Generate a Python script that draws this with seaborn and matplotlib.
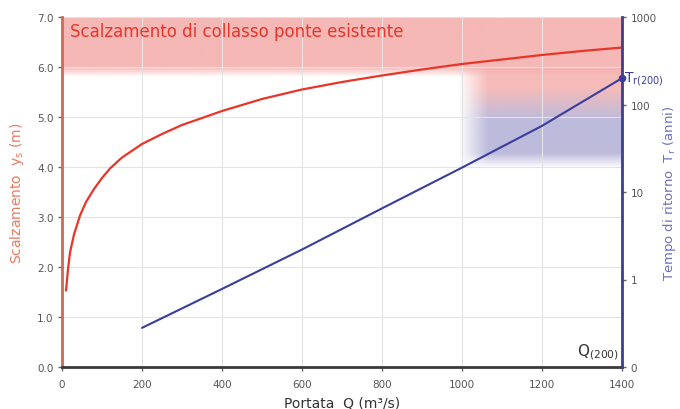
import numpy as np
import pandas as pd
import matplotlib
matplotlib.use("Agg")
import matplotlib.pyplot as plt
import seaborn as sns

# ---- data ----
q_scour = [10, 15, 20, 30, 45, 60, 80, 100, 120, 150, 200, 250, 300, 400, 500,
           600, 700, 800, 900, 1000, 1100, 1200, 1300, 1400]
y_scour = [1.53, 1.95, 2.29, 2.65, 3.03, 3.30, 3.56, 3.78, 3.97, 4.19, 4.46, 4.66,
           4.84, 5.12, 5.36, 5.55, 5.70, 5.83, 5.95, 6.06, 6.15, 6.24, 6.32, 6.39]

q_return = [200, 400, 600, 800, 1000, 1200, 1400]
t_return = [0.28, 0.78, 2.2, 6.5, 19.0, 57.0, 200.0]

x_ticks = [0, 200, 400, 600, 800, 1000, 1200, 1400]
y_ticks = [0.0, 1.0, 2.0, 3.0, 4.0, 5.0, 6.0, 7.0]
t_ticks = [0.1, 1, 10, 100, 1000]
t_labels = ["0", "1", "10", "100", "1000"]

collapse_level = 6.0
q200 = 1400
t200 = 200

sns.set_theme(style="whitegrid")
plt.rcParams["font.family"] = ["DejaVu Sans"]

RED = "#e8352a"
BLUE = "#3a3d9c"
RED_SPINE = "#d9644f"
RED_LABEL = "#e97a62"
BLUE_LABEL = "#6d70b8"
GRAY = "#555555"

fig = plt.figure(figsize=(6.8, 4.1), dpi=100)
ax = fig.add_axes([62 / 680, 1 - 368 / 410, 560 / 680, 350 / 410])
ax2 = ax.twinx()

# ---- shaded regions (gradients) ----
pink = np.array([245, 178, 176]) / 255
lav = np.array([180, 178, 215]) / 255

# top band (collapse scour level up to top), fading just below 6.0
ny = 200
yy = np.linspace(5.8, 7.0, ny)
band = np.zeros((ny, 2, 4))
a = np.clip((yy - 5.8) / 0.2, 0, 1)
band[:, :, :3] = pink
band[:, :, 3] = (a * 0.92)[:, None]
ax.imshow(band, extent=[0, 1400, 5.8, 7.0], origin="lower", aspect="auto",
          interpolation="bilinear", zorder=0.5)

# right region 1000-1400, pink at top to lavender at bottom
ny2, nx2 = 300, 200
yy2 = np.linspace(3.98, 6.0, ny2)
xx2 = np.linspace(990, 1400, nx2)
reg = np.zeros((ny2, nx2, 4))
mix = np.clip((yy2 - 4.95) / (5.6 - 4.95), 0, 1)  # 1 -> pink, 0 -> lavender
col = mix[:, None] * pink + (1 - mix[:, None]) * lav
reg[:, :, :3] = col[:, None, :]
av = np.clip((yy2 - 3.98) / 0.3, 0, 1)
ah = np.clip((xx2 - 990) / 75, 0, 1)
reg[:, :, 3] = 0.88 * av[:, None] * ah[None, :]
ax.imshow(reg, extent=[990, 1400, 3.98, 6.0], origin="lower", aspect="auto",
          interpolation="bilinear", zorder=0.5)

# ---- lines ----
sns.lineplot(x=q_scour, y=y_scour, ax=ax, color=RED, linewidth=1.6, zorder=3)
sns.lineplot(x=q_return, y=t_return, ax=ax2, color=BLUE, linewidth=1.5, zorder=3)
ax2.plot([q200], [t200], "o", color=BLUE, markersize=4.5, zorder=4, clip_on=False)

# ---- axes ----
ax.set_xlim(0, 1400)
ax.set_ylim(0, 7)
ax.set_xticks(x_ticks)
ax.set_xticklabels([str(v) for v in x_ticks])
ax.set_yticks(y_ticks)
ax.set_yticklabels([f"{v:.1f}" for v in y_ticks])
ax.grid(True, color="#e3e3e3", linewidth=0.8)
ax.set_axisbelow(True)

ax2.set_yscale("log")
ax2.set_ylim(0.1, 1000)
ax2.set_yticks(t_ticks)
ax2.set_yticklabels(t_labels)
ax2.yaxis.set_minor_locator(matplotlib.ticker.NullLocator())
ax2.grid(False)

for a_ in (ax, ax2):
    for s in a_.spines.values():
        s.set_visible(False)
ax.spines["left"].set_visible(True)
ax.spines["left"].set_color(RED_SPINE)
ax.spines["left"].set_linewidth(2)
ax.spines["bottom"].set_visible(True)
ax.spines["bottom"].set_color("#3a3a3a")
ax.spines["bottom"].set_linewidth(2)
ax2.spines["right"].set_visible(True)
ax2.spines["right"].set_color(BLUE)
ax2.spines["right"].set_linewidth(2)

ax.tick_params(axis="both", which="major", labelsize=7.5, labelcolor=GRAY,
               length=3, width=1, color="#666666", pad=3, direction="out")
ax.tick_params(axis="x", bottom=True, pad=6)
ax.tick_params(axis="y", left=True)
ax2.tick_params(axis="y", which="major", labelsize=7.5, labelcolor=GRAY,
                length=3, width=1, color="#666666", pad=3, right=True)

ax.set_xlabel("Portata  Q (m³/s)", fontsize=10, color="#333333", labelpad=4)
ax.set_ylabel(r"Scalzamento  y$_{\mathrm{s}}$ (m)", fontsize=10, color=RED_LABEL, labelpad=8)
ax2.set_ylabel(r"Tempo di ritorno  T$_{\mathrm{r}}$ (anni)", fontsize=9.5,
               color=BLUE_LABEL, labelpad=3)

# ---- texts ----
ax.text(20, 6.72, "Scalzamento di collasso ponte esistente", fontsize=12,
        color=RED, va="center", ha="left", zorder=5)
ax2.text(1405, t200, r"T$_{\mathrm{r(200)}}$", fontsize=10, color=BLUE,
         va="center", ha="left", zorder=5, clip_on=False)
ax.text(1392, 0.12, r"Q$_{\mathrm{(200)}}$", fontsize=11, color="#333333",
        va="bottom", ha="right", zorder=5)

fig.savefig("out.png", dpi=100)
